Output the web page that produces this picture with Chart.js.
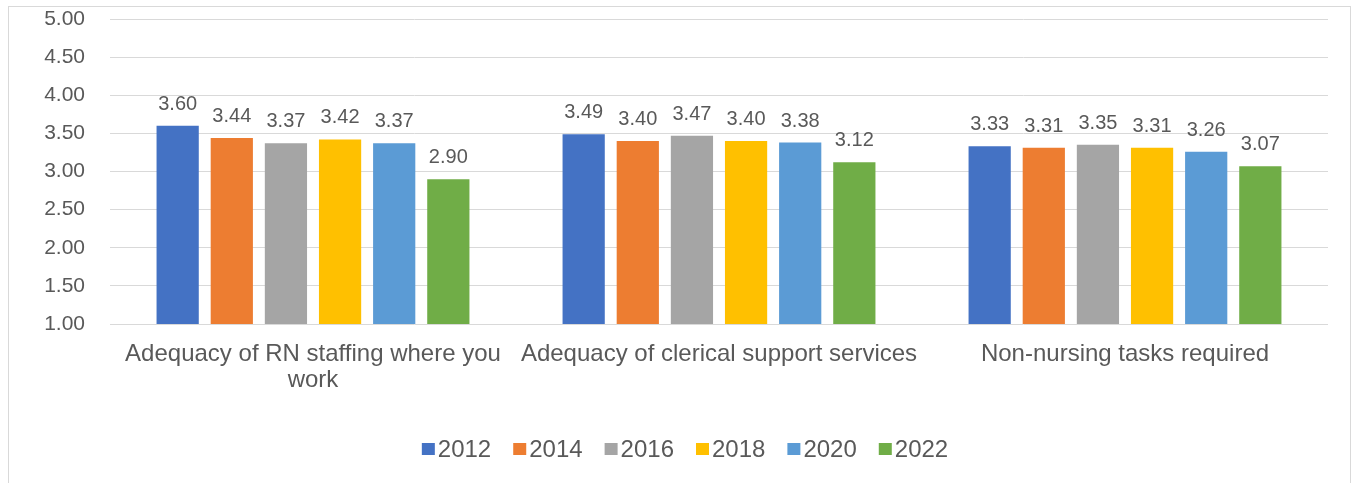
<!DOCTYPE html>
<html>
<head>
<meta charset="utf-8">
<script src="https://cdn.jsdelivr.net/npm/chart.js@4/dist/chart.umd.min.js"></script>
<style>
  html, body { margin: 0; padding: 0; background: #fff; overflow: hidden; }
  #wrap { position: relative; width: 1353px; height: 483px; }
  #frame { position: absolute; left: 8px; top: 6px; width: 1343px; height: 520px; border: 1px solid #d9d9d9; box-sizing: border-box; }
  canvas { position: absolute; left: 0; top: 0; }
</style>
</head>
<body>
<div id="wrap">
  <div id="frame"></div>
  <canvas id="myChart" width="1353" height="483"></canvas>
</div>
<script>
const categories = [
  ['Adequacy of RN staffing where you', 'work'],
  'Adequacy of clerical support services',
  'Non-nursing tasks required'
];
const years = ['2012', '2014', '2016', '2018', '2020', '2022'];
const colors = ['#4472C4', '#ED7D31', '#A5A5A5', '#FFC000', '#5B9BD5', '#70AD47'];

// one score per category, per survey year
const s2012 = [3.60, 3.49, 3.33];
const s2014 = [3.44, 3.40, 3.31];
const s2016 = [3.37, 3.47, 3.35];
const s2018 = [3.42, 3.40, 3.31];
const s2020 = [3.37, 3.38, 3.26];
const s2022 = [2.90, 3.12, 3.07];
const series = [s2012, s2014, s2016, s2018, s2020, s2022];

const yTicks = { min: 1, max: 5, step: 0.5 };

const textColor = '#595959';
const fontFamily = '"Liberation Sans", Arial, sans-serif';

// value printed above each bar
const barValues = {
  id: 'barValues',
  afterDatasetsDraw(chart) {
    const ctx = chart.ctx;
    ctx.save();
    ctx.fillStyle = textColor;
    ctx.font = '20px ' + fontFamily;
    ctx.textAlign = 'center';
    ctx.textBaseline = 'alphabetic';
    chart.data.datasets.forEach((ds, i) => {
      chart.getDatasetMeta(i).data.forEach((bar, j) => {
        ctx.fillText(ds.data[j].toFixed(2), bar.x, bar.y - 16);
      });
    });
    ctx.restore();
  }
};

// legend row under the axis: small square, tight gap, year label
const legendRow = {
  id: 'legendRow',
  afterDraw(chart) {
    const ctx = chart.ctx;
    const box = 13, gap = 3, spacing = 22, midY = 449;
    ctx.save();
    ctx.font = '24px ' + fontFamily;
    ctx.textBaseline = 'middle';
    ctx.textAlign = 'left';
    const items = chart.data.datasets.map(ds => ({ ds, w: ctx.measureText(ds.label).width }));
    const total = items.reduce((s, it) => s + box + gap + it.w, 0) + spacing * (items.length - 1);
    let x = chart.width / 2 + 8.5 - total / 2;
    items.forEach(it => {
      ctx.fillStyle = it.ds.backgroundColor;
      ctx.fillRect(x, midY - 6, box, 12);
      ctx.fillStyle = textColor;
      ctx.fillText(it.ds.label, x + box + gap, midY + 1);
      x += box + gap + it.w + spacing;
    });
    ctx.restore();
  }
};

const datasets = years.map((y, i) => ({
  label: y,
  data: series[i],
  backgroundColor: colors[i],
  borderWidth: 0,
  categoryPercentage: 0.8,
  barPercentage: 0.78
}));

Chart.defaults.font.family = fontFamily;
Chart.defaults.color = textColor;

new Chart(document.getElementById('myChart').getContext('2d'), {
  type: 'bar',
  data: { labels: categories, datasets: datasets },
  options: {
    responsive: false,
    animation: false,
    layout: { padding: { left: 0, right: 25, top: 19, bottom: 63 } },
    plugins: {
      tooltip: { enabled: false },
      legend: { display: false }
    },
    scales: {
      x: {
        grid: { display: false, drawTicks: false },
        border: { display: false },
        ticks: { font: { size: 24, lineHeight: 1.1 }, padding: 17, maxRotation: 0, autoSkip: false },
        afterFit(scale) {
          scale.height = 96;
          scale.paddingLeft = 0;
          scale.paddingRight = 0;
        }
      },
      y: {
        min: yTicks.min,
        max: yTicks.max,
        grid: { color: '#d9d9d9', lineWidth: 1, drawTicks: false },
        border: { display: false },
        ticks: {
          stepSize: yTicks.step,
          padding: 25,
          font: { size: 21 },
          callback: v => v.toFixed(2)
        },
        afterFit(scale) {
          scale.width = 110;
          scale.paddingTop = 0;
          scale.paddingBottom = 0;
        }
      }
    }
  },
  plugins: [barValues, legendRow]
});
</script>
</body>
</html>
